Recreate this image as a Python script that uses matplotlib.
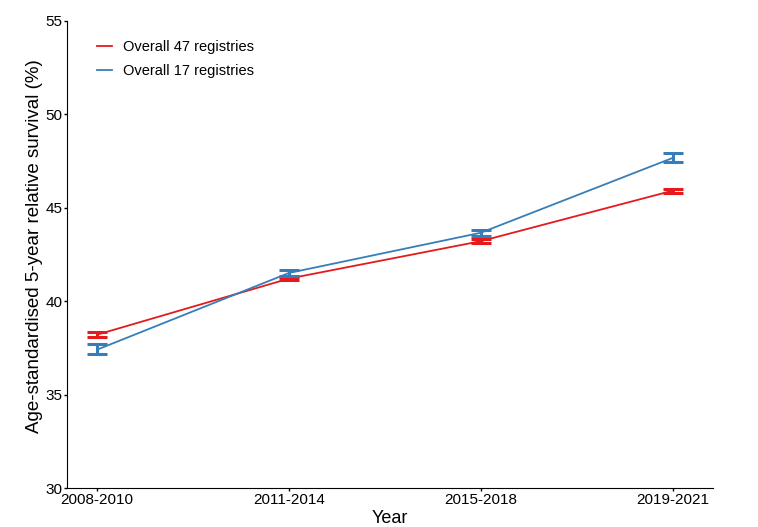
import matplotlib
matplotlib.use("Agg")
import matplotlib.pyplot as plt
import numpy as np

plt.rcParams['font.family'] = ['Liberation Sans', 'DejaVu Sans']

periods = ["2008-2010", "2011-2014", "2015-2018", "2019-2021"]
s47 = [38.2, 41.2, 43.2, 45.9]
s47_lo = [38.1, 41.1, 43.1, 45.8]
s47_hi = [38.35, 41.3, 43.3, 46.0]
s17 = [37.4, 41.5, 43.65, 47.65]
s17_lo = [37.15, 41.35, 43.5, 47.45]
s17_hi = [37.7, 41.65, 43.8, 47.9]

red = "#E41A1C"
blue = "#377EB8"

fig = plt.figure(figsize=(7.58, 5.27), dpi=100)
ax = fig.add_axes([0.0884, 0.074, 0.852, 0.887])
x = np.arange(len(periods))

for vals, lo, hi, col, lab in [(s47, s47_lo, s47_hi, red, "Overall 47 registries"),
                               (s17, s17_lo, s17_hi, blue, "Overall 17 registries")]:
    vals = np.array(vals); lo = np.array(lo); hi = np.array(hi)
    ax.plot(x, vals, color=col, lw=1.3, label=lab)
    ax.errorbar(x, vals, yerr=[vals - lo, hi - vals], fmt='none', ecolor=col,
                elinewidth=2.2, capsize=7.5, capthick=2.2)

ax.set_xlim(-0.157, 3.21)
ax.set_ylim(30, 55)
ax.set_yticks([30, 35, 40, 45, 50, 55])
ax.set_xticks(x)
ax.set_xticklabels(periods)
ax.spines['top'].set_visible(False)
ax.spines['right'].set_visible(False)
ax.tick_params(axis='both', labelsize=11, length=2.2, width=1, colors='black', pad=1.2)
ax.set_xlabel("Year", fontsize=13, labelpad=2)
ax.set_ylabel("Age-standardised 5-year relative survival (%)", fontsize=13.5, labelpad=2)
ax.yaxis.label.set_y(0.517)
ax.legend(loc='upper left', bbox_to_anchor=(0.026, 0.986), frameon=False, fontsize=10.5,
          handlelength=1.0, handletextpad=0.8, labelspacing=0.65)
fig.savefig("out.png", dpi=100)
